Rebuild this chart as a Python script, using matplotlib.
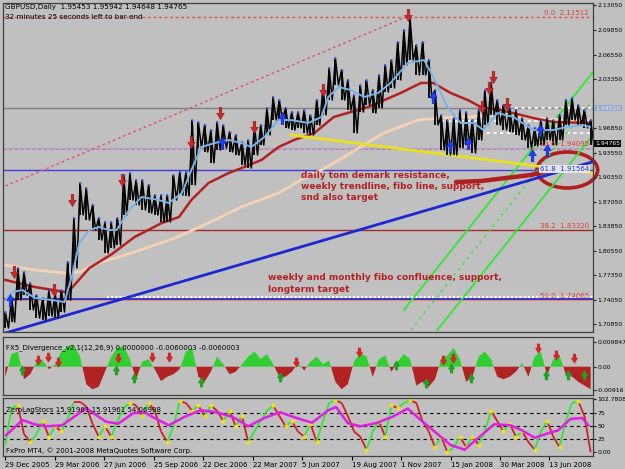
import numpy as np
import matplotlib.pyplot as plt
from matplotlib.path import Path
from matplotlib.patches import Ellipse
from matplotlib.collections import LineCollection
import matplotlib.transforms as mtransforms

price_hi = [1.7249, 1.7434, 1.7831, 1.7778, 1.7633, 1.7474, 1.7434, 1.7540, 1.7501, 1.7540,
            1.7911, 1.8493, 1.8956, 1.8890, 1.8665, 1.8493, 1.8440, 1.8440, 1.8493, 1.9062,
            1.9088, 1.8996, 1.8996, 1.8930, 1.8797, 1.8797, 1.8797, 1.9062, 1.9101, 1.9101,
            1.9789, 1.9763, 1.9723, 1.9657, 1.9763, 1.9723, 1.9631, 1.9591, 1.9498, 1.9525,
            1.9723, 1.9723, 1.9948, 2.0094, 2.0054, 1.9948, 1.9895, 1.9895, 1.9922, 1.9856,
            2.0054, 2.0213, 2.0477, 2.0610, 2.0451, 2.0319, 2.0120, 2.0252, 2.0319, 2.0186,
            2.0385, 2.0517, 2.0583, 2.0821, 2.0980, 2.1139, 2.0782, 2.0821, 2.0583, 2.0186,
            1.9856, 1.9789, 1.9816, 1.9922, 1.9895, 1.9789, 1.9922, 2.0186, 2.0292, 2.0054,
            1.9988, 1.9948, 1.9922, 1.9816, 1.9723, 1.9684, 1.9789, 1.9816, 1.9789, 1.9856,
            2.0054, 2.0080, 1.9988, 1.9922, 1.9789]
price_lo = [1.7038, 1.7117, 1.7408, 1.7474, 1.7276, 1.7170, 1.7143, 1.7196, 1.7170, 1.7249,
            1.7408, 1.7831, 1.8533, 1.8466, 1.8334, 1.8202, 1.8030, 1.8096, 1.8136, 1.8533,
            1.8731, 1.8665, 1.8599, 1.8559, 1.8533, 1.8440, 1.8440, 1.8731, 1.8797, 1.8784,
            1.8930, 1.9419, 1.9366, 1.9221, 1.9393, 1.9419, 1.9366, 1.9326, 1.9194, 1.9154,
            1.9326, 1.9459, 1.9591, 1.9789, 1.9789, 1.9684, 1.9657, 1.9684, 1.9617, 1.9591,
            1.9723, 1.9856, 2.0054, 2.0252, 2.0054, 1.9922, 1.9617, 1.9895, 1.9988, 1.9882,
            1.9948, 2.0160, 2.0213, 2.0319, 2.0517, 2.0583, 2.0385, 2.0385, 2.0080, 1.9723,
            1.9393, 1.9326, 1.9326, 1.9419, 1.9459, 1.9353, 1.9525, 1.9723, 1.9856, 1.9723,
            1.9657, 1.9631, 1.9591, 1.9525, 1.9419, 1.9445, 1.9459, 1.9525, 1.9459, 1.9525,
            1.9723, 1.9789, 1.9723, 1.9684, 1.9465]
BAR_STEP = 8
bars = np.arange(len(price_hi)) * BAR_STEP

# moving averages (bar index, price)
ma_fast_bar = [0, 9, 22, 38, 60, 76, 86, 95, 108, 120, 133, 143, 159, 175, 197, 210, 227, 239,
               252, 269, 287, 303, 316, 333, 351, 367, 389, 406, 415, 428, 444, 461, 479, 495,
               517, 538, 550, 568, 585, 602, 614, 632, 653, 678, 704, 722, 742, 751]
ma_fast = [1.7408, 1.7514, 1.7540, 1.7434, 1.7408, 1.7381, 1.7739, 1.8162, 1.8334, 1.8374,
           1.8334, 1.8334, 1.8599, 1.8771, 1.8731, 1.8691, 1.8824, 1.9128, 1.9432, 1.9485,
           1.9525, 1.9485, 1.9432, 1.9565, 1.9789, 1.9789, 1.9750, 1.9829, 2.0094, 2.0226,
           2.0186, 2.0094, 2.0147, 2.0279, 2.0544, 2.0583, 2.0358, 1.9961, 1.9750, 1.9750,
           1.9657, 1.9882, 1.9829, 1.9657, 1.9657, 1.9697, 1.9723, 1.9697]
ma_mid_bar = [0, 38, 77, 83, 108, 137, 166, 201, 223, 239, 261, 287, 307, 329, 351, 371, 397,
              422, 466, 508, 534, 550, 572, 594, 611, 636, 678, 704, 748]
ma_mid = [1.7673, 1.7580, 1.7514, 1.7540, 1.7831, 1.8017, 1.8241, 1.8427, 1.8506, 1.8731,
          1.8956, 1.9088, 1.9168, 1.9260, 1.9432, 1.9525, 1.9617, 1.9829, 1.9961, 2.0147,
          2.0279, 2.0279, 2.0147, 2.0054, 1.9961, 1.9922, 1.9816, 1.9763, 1.9750]
ma_slow_bar = [0, 38, 77, 95, 120, 166, 218, 261, 303, 351, 380, 406, 435, 486, 530, 559, 594,
               636, 678, 722, 751]
ma_slow = [1.7871, 1.7805, 1.7765, 1.7778, 1.7897, 1.8043, 1.8228, 1.8427, 1.8638, 1.8824,
           1.8996, 1.9128, 1.9300, 1.9617, 1.9789, 1.9816, 1.9829, 1.9856, 1.9816, 1.9789,
           1.9789]

# DeMark arrows
dn_arrow_bar = [11, 63, 86, 150, 239, 276, 320, 408, 517, 613, 621, 626, 645]
dn_arrow_px = [1.7778, 1.7540, 1.8731, 1.8996, 1.9498, 1.9882, 1.9697, 2.0186, 2.1179,
               1.9961, 2.0213, 2.0358, 2.0001]
up_arrow_bar = [6, 279, 355, 549, 571, 594, 677, 696, 687]
up_arrow_px = [1.7408, 1.9485, 1.9816, 2.0094, 1.9446, 1.9485, 1.9326, 1.9393, 1.9657]

# levels
fib_vals = [2.11512, 1.94095, 1.83320, 1.74065]
fib_names = ["0.0", "23.6", "38.2", "50.0"]
gray_levels = [1.9948, 1.9419]
blue_levels = [1.9128, 1.7420]

# drawn objects (bar, price)
pink_diag = ([0, 515], [1.8916, 2.1152])
yellow_line = ([367, 754], [1.9591, 1.9088])
blue_trend = ([0, 754], [1.6971, 1.9234])
green_a = ([512, 755], [1.7276, 2.0424])
green_b = ([555, 755], [1.7011, 1.9591])
green_c = ([521, 755], [1.7011, 2.0054])
red_stroke_bar = [579, 611, 643, 675, 698]
red_stroke_px = [1.8969, 1.8982, 1.9022, 1.9062, 1.9115]

# FX5 divergence histogram
div_vals = [-0.004, 0.005, 0.006, -0.005, -0.003, 0.002, 0.0025, -0.001, 0.001, 0.006,
            0.008, 0.0088, 0.004, -0.007, -0.009, -0.008, -0.002, 0.004, 0.0075, 0.0082,
            0.003, -0.005, 0.002, 0.003, -0.001, -0.0057, -0.004, -0.003, -0.001, 0.006,
            0.0075, -0.004, -0.006, -0.002, 0.004, 0.001, -0.003, -0.002, 0.001, 0.004,
            0.006, 0.003, 0.005, 0.001, -0.004, -0.004, -0.002, 0.0015, -0.0015, 0.002,
            0.004, 0.001, 0.0025, -0.006, -0.009, -0.007, 0.002, 0.0055, 0.004, -0.004,
            0.003, 0.0045, -0.002, 0.002, 0.005, 0.003, -0.0075, -0.006, -0.008, -0.005,
            0.003, 0.0045, 0.0075, 0.003, -0.006, -0.004, 0.004, 0.006, 0.003, -0.004,
            -0.005, -0.004, -0.002, 0.0015, -0.004, 0.004, 0.006, -0.0035, 0.003, 0.0045,
            -0.003, -0.004, -0.006, -0.0075, -0.009]
div_dn_bar = [42, 55, 68, 145, 189, 210, 374, 454, 562, 575, 684, 708, 731]
div_dn_val = [0.0027, 0.0039, 0.0019, 0.0035, 0.0039, 0.0039, 0.0019, 0.0059, 0.0027,
              0.0035, 0.0075, 0.0047, 0.0035]
div_up_bar = [22, 142, 165, 251, 353, 502, 541, 572, 598, 695, 723, 744]
div_up_val = [-0.0013, -0.0013, -0.0045, -0.0061, -0.0041, 0.0007, -0.0065, -0.0005,
              -0.0045, -0.0033, -0.0033, -0.0033]

# ZeroLag stochastic
stoch_fast = [15, 85, 90, 35, 20, 35, 60, 30, 50, 40, 65, 97, 97, 88, 55, 30, 50, 30, 60, 85,
              95, 90, 70, 95, 80, 40, 20, 50, 98, 95, 80, 90, 70, 90, 80, 60, 80, 50, 70, 20,
              40, 60, 80, 90, 70, 50, 60, 40, 30, 55, 20, 60, 95, 100, 95, 70, 40, 30, 5, 40,
              60, 30, 90, 85, 95, 100, 95, 60, 40, 10, 30, 0, 10, 30, 10, 30, 15, 40, 80, 60,
              40, 55, 30, 40, 20, 5, 40, 60, 30, 10, 60, 95, 98, 70, 0]
stoch_sig_bar = [1, 22, 37, 52, 73, 104, 129, 145, 164, 179, 189, 210, 230, 251, 271, 292,
                 312, 333, 353, 374, 394, 415, 425, 440, 456, 476, 497, 517, 536, 557, 572,
                 590, 608, 628, 649, 664, 680, 700, 710, 726, 741, 749]
stoch_sig = [33, 62, 54, 50, 52, 85, 59, 55, 75, 77, 68, 52, 68, 81, 77, 68, 50, 66, 77, 66,
             57, 81, 87, 56, 50, 56, 68, 84, 59, 33, 14, 5, 28, 54, 52, 42, 28, 38, 42, 64,
             66, 52]

date_bars = [0, 64, 127, 191, 254, 318, 381, 445, 508, 572, 635, 699]
date_labels = ["29 Dec 2005", "29 Mar 2006", "27 Jun 2006", "25 Sep 2006", "22 Dec 2006",
               "22 Mar 2007", "5 Jun 2007", "19 Aug 2007", "1 Nov 2007", "15 Jan 2008",
               "30 Mar 2008", "13 Jun 2008"]
price_ticks = [2.13050, 2.09850, 2.06550, 2.03350, 1.96850, 1.93550, 1.90350, 1.87050,
               1.83850, 1.80550, 1.77350, 1.74050, 1.70850]

BG = "#C0C0C0"
W, H = 625, 469
FS = 4.4  # MT4 scale font


def rect(l, t, r, b):
    return [l / W, 1 - b / H, (r - l) / W, (b - t) / H]


# arrow markers
_v = [(-0.22, 1), (0.22, 1), (0.22, 0.05), (0.62, 0.05), (0, -1), (-0.62, 0.05),
      (-0.22, 0.05), (-0.22, 1)]
_c = [Path.MOVETO] + [Path.LINETO] * 6 + [Path.CLOSEPOLY]
arrow_dn = Path(_v, _c)
arrow_up = Path([(x, -y) for x, y in _v], _c)

fig = plt.figure(figsize=(6.25, 4.69), dpi=100, facecolor=BG)
ax = fig.add_axes(rect(3, 3, 593, 332))
axd = fig.add_axes(rect(3, 337, 593, 395), sharex=ax)
axs = fig.add_axes(rect(3, 398, 593, 456), sharex=ax)

for a in (ax, axd, axs):
    a.set_facecolor(BG)
    for s in a.spines.values():
        s.set_color("#404040")
        s.set_linewidth(0.9)
    a.yaxis.tick_right()
    a.tick_params(axis="y", direction="out", length=2, pad=1, labelsize=FS, color="#202020")
    a.tick_params(axis="x", labelbottom=False, length=0)
ax.set_xlim(-3, 755)

# ---------------- main price window ----------------
ax.set_ylim(1.6985, 2.1337)
ax.set_yticks(price_ticks)
ax.set_yticklabels([f"{p:.5f}" for p in price_ticks])

ax.axhline(fib_vals[0], color="#E05050", lw=1, ls=(0, (2, 2)))
ax.axhline(fib_vals[1], color="#E8508C", lw=1.2, ls=(0, (2, 1.5)))
ax.axhline(fib_vals[2], color="#A52A2A", lw=1)
ax.axhline(fib_vals[3], color="#F08060", lw=1.2)
ax.axhline(gray_levels[0], color="#808080", lw=1)
ax.axhline(gray_levels[1], color="#A8A8CC", lw=1)
ax.axhline(blue_levels[0], color="#4040E0", lw=1)
ax.axhline(blue_levels[1], color="#2020D0", lw=1.2)
ax.hlines(1.7445, 130, 755, color="white", lw=1.5, ls=(0, (1, 1)))
ax.hlines([1.9948, 1.9775, 1.9620], [620, 560, 610], 755, color="white", lw=1.2, ls=(0, (2, 2)))

ax.plot(*pink_diag, color="#E0507A", lw=1, ls=(0, (2, 2)))
ax.plot(*green_a, color="#33E633", lw=1.3)
ax.plot(*green_b, color="#33E633", lw=1.3)
ax.plot(*green_c, color="#33E633", lw=1, ls=(0, (2, 3)))

ax.plot(ma_slow_bar, ma_slow, color="#F5D2B4", lw=2)
ax.plot(ma_mid_bar, ma_mid, color="#B22222", lw=1.8)
ax.plot(*yellow_line, color="#E8E020", lw=2)
ax.plot(*blue_trend, color="#1E28D2", lw=2)

# price: high-low bars plus a jagged trace between them
hi = np.array(price_hi)
lo = np.array(price_lo)
ax.vlines(bars, lo, hi, color="black", lw=1.3)
zig_x = np.column_stack([bars, bars + BAR_STEP / 2]).ravel()
zig_y = np.column_stack([hi, lo]).ravel()
ax.plot(zig_x, zig_y, color="black", lw=1.1)
ax.plot(bars, hi, ls="none", marker="o", ms=1.6, color="#4060FF", mec="none")
ax.plot(ma_fast_bar, ma_fast, color="#78B4EC", lw=1.4)

ax.plot(dn_arrow_bar, dn_arrow_px, ls="none", marker=arrow_dn, ms=9, color="#C8282A", mec="#8B1010", mew=0.3)
ax.plot(up_arrow_bar, up_arrow_px, ls="none", marker=arrow_up, ms=9, color="#1E3CFF", mec="#10208B", mew=0.3)

# hand-drawn annotation
ax.plot(red_stroke_bar, red_stroke_px, color="#B01E1E", lw=3.2, solid_capstyle="round")
ax.add_patch(Ellipse((722, 1.9128), 78, 0.0476, fill=False, ec="#B01E1E", lw=2.6, clip_on=False))

ax.text(380, 1.9115, "daily tom demark resistance,\nweekly trendline, fibo line, support,\nsnd also target",
        color="#B22222", fontsize=6.5, fontweight="bold", va="top", ha="left", linespacing=1.3)
ax.text(338, 1.7760, "weekly and monthly fibo confluence, support,\nlongterm target",
        color="#B22222", fontsize=6.5, fontweight="bold", va="top", ha="left", linespacing=1.3)

for v, n in zip(fib_vals, fib_names):
    ax.text(750, v + 0.002, f"{n}  {v:.5f}", color="#E03C3C", fontsize=5, ha="right", va="bottom")
ax.text(750, 1.9140, "61.8  1.91564", color="#2038C0", fontsize=5, ha="right", va="center",
        bbox=dict(boxstyle="square,pad=0.1", fc="#E4E4EE", ec="none"))

trans = mtransforms.blended_transform_factory(ax.transAxes, ax.transData)
ax.text(1.004, 1.9948, "1.99520", transform=trans, fontsize=FS, color="#E8EEF8", va="center",
        bbox=dict(boxstyle="square,pad=0.15", fc="#98A8C4", ec="none"))
ax.text(1.004, 1.94765, "1.94765", transform=trans, fontsize=FS, color="white", va="center",
        bbox=dict(boxstyle="square,pad=0.15", fc="black", ec="none"))

fig.text(5 / W, 1 - 7 / H, "GBPUSD,Daily  1.95453 1.95942 1.94648 1.94765", fontsize=5.2, va="center")
fig.text(5 / W, 1 - 17 / H, "32 minutes 25 seconds left to bar end", fontsize=5.2, va="center")

# ---------------- FX5 divergence ----------------
dv = np.array(div_vals)
axd.set_ylim(-0.01128, 0.01184)
axd.fill_between(bars, dv, 0, where=dv >= 0, interpolate=True, color="#30D030", lw=0)
axd.fill_between(bars, dv, 0, where=dv <= 0, interpolate=True, color="#B22222", lw=0)
axd.plot(div_dn_bar, div_dn_val, ls="none", marker=arrow_dn, ms=6, color="#D02828")
axd.plot(div_up_bar, div_up_val, ls="none", marker=arrow_up, ms=6, color="#22A022")
axd.set_yticks([0.009847, 0.0, -0.00916])
axd.set_yticklabels(["0.009847", "0.00", "-0.00916"])
axd.text(0.005, 0.82, "FX5_Divergence_v2.1(12,26,9) 0.0000000 -0.0060003 -0.0060003",
         transform=axd.transAxes, fontsize=5, va="center")

# ---------------- ZeroLag stochastic ----------------
sf = np.array(stoch_fast, dtype=float)
axs.set_ylim(-7.1, 104.4)
for lvl in (75, 50, 25):
    axs.axhline(lvl, color="black", lw=0.8, ls=(0, (3, 3)))
pts = np.column_stack([bars, sf])
segs = np.stack([pts[:-1], pts[1:]], axis=1)
cols = ["#33E633" if b > a else "#D02020" for a, b in zip(sf[:-1], sf[1:])]
axs.add_collection(LineCollection(segs, colors=cols, lw=1.3))
turn = [i for i in range(1, len(sf) - 1) if (sf[i] - sf[i - 1]) * (sf[i + 1] - sf[i]) < 0]
axs.plot(bars[turn], sf[turn], ls="none", marker="o", ms=2, color="#F0E020")
axs.plot(stoch_sig_bar, stoch_sig, color="#E020E0", lw=1.8)
axs.set_yticks([102.7808, 75, 50, 25, 0])
axs.set_yticklabels(["102.7808", "75", "50", "25", "0.00"])
axs.text(0.005, 0.8, "ZeroLagStocs 15.91961 15.91961 54.06908", transform=axs.transAxes,
         fontsize=5, va="center")
axs.text(0.005, 0.1, "FxPro MT4, \u00a9 2001-2008 MetaQuotes Software Corp.", transform=axs.transAxes,
         fontsize=5, va="center")

axs.set_xticks(date_bars)
axs.set_xticklabels(date_labels, ha="left")
axs.tick_params(axis="x", labelbottom=True, length=3, pad=1.5, labelsize=5, direction="out")

fig.savefig("out.png", dpi=100, facecolor=BG)
